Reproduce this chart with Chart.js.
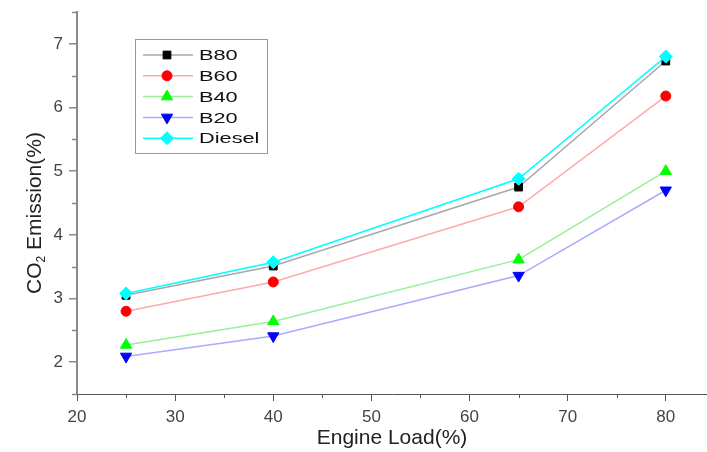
<!DOCTYPE html>
<html>
<head>
<meta charset="utf-8">
<script src="https://cdn.jsdelivr.net/npm/chart.js@4.4.1/dist/chart.umd.min.js"></script>
<style>
  html, body { margin: 0; padding: 0; background: #fff; }
  #wrap { width: 707px; height: 452px; position: relative; }
</style>
</head>
<body>
<div id="wrap"><canvas id="chart"></canvas></div>
<script>
// CO2 emission vs engine load, five fuel blends
const loads = [25, 40, 65, 80];
const seriesNames = ['B80', 'B60', 'B40', 'B20', 'Diesel'];
const b80 = [3.05, 3.51, 4.75, 6.73];
const b60 = [2.80, 3.26, 4.44, 6.18];
const b40 = [2.27, 2.64, 3.61, 5.00];
const b20 = [2.09, 2.41, 3.36, 4.70];
const diesel = [3.08, 3.57, 4.88, 6.80];

const xTicks = [20, 30, 40, 50, 60, 70, 80];
const xMinorTicks = [25, 35, 45, 55, 65, 75];
const yTicks = [2, 3, 4, 5, 6, 7];
const yMinorTicks = [1.5, 2.5, 3.5, 4.5, 5.5, 6.5, 7.5];

const FONT = '"Liberation Sans", Arial, sans-serif';

const styles = [
    { line: '#a8a8a8', point: '#000000', pointStyle: 'rect', rotation: 0, radius: 5.5, order: 1 },
    { line: '#ffaaaa', point: '#ff0000', pointStyle: 'circle', rotation: 0, radius: 5, order: 2 },
    { line: '#99ee99', point: '#00ff00', pointStyle: 'triangle', rotation: 0, radius: 6.5, order: 3 },
    { line: '#aaaaff', point: '#0000ff', pointStyle: 'triangle', rotation: 180, radius: 6.5, order: 4 },
    { line: '#00ffff', point: '#00ffff', pointStyle: 'rectRot', rotation: 0, radius: 6.5, order: 0 },
];

const values = [b80, b60, b40, b20, diesel];

const datasets = seriesNames.map((name, i) => ({
    label: name,
    data: loads.map((x, j) => ({ x, y: values[i][j] })),
    borderColor: styles[i].line,
    borderWidth: 1.5,
    backgroundColor: styles[i].point,
    pointBackgroundColor: styles[i].point,
    pointBorderColor: styles[i].point,
    pointBorderWidth: 1,
    pointStyle: styles[i].pointStyle,
    pointRotation: styles[i].rotation,
    pointRadius: styles[i].radius,
    tension: 0,
    clip: false,
    order: styles[i].order,
}));

// minor ticks, y title with subscript, boxed legend inside the plot
const decor = {
    id: 'decor',
    afterDraw(chart) {
        const { ctx, chartArea } = chart;
        const xs = chart.scales.x;
        const ys = chart.scales.y;
        ctx.save();

        ctx.strokeStyle = '#555';
        ctx.lineWidth = 1;
        xMinorTicks.forEach((v) => {
            const px = Math.round(xs.getPixelForValue(v)) + 0.5;
            ctx.beginPath();
            ctx.moveTo(px, chartArea.bottom);
            ctx.lineTo(px, chartArea.bottom + 4);
            ctx.stroke();
        });
        ctx.strokeStyle = '#888';
        ctx.lineWidth = 1.5;
        yMinorTicks.forEach((v) => {
            const py = Math.round(ys.getPixelForValue(v)) + 0.5;
            ctx.beginPath();
            ctx.moveTo(chartArea.left - 5, py);
            ctx.lineTo(chartArea.left, py);
            ctx.stroke();
        });

        // y axis title: CO₂ Emission(%)
        ctx.save();
        ctx.translate(35, 213);
        ctx.rotate(-Math.PI / 2);
        ctx.fillStyle = '#222';
        ctx.textBaseline = 'middle';
        ctx.font = `21px ${FONT}`;
        const w1 = ctx.measureText('CO').width;
        const w3 = ctx.measureText(' Emission(%)').width;
        ctx.font = `12px ${FONT}`;
        const w2 = ctx.measureText('2').width;
        let tx = -(w1 + w2 + w3) / 2;
        ctx.font = `21px ${FONT}`;
        ctx.textAlign = 'left';
        ctx.fillText('CO', tx, 0);
        tx += w1;
        ctx.font = `12px ${FONT}`;
        ctx.fillText('2', tx, 7);
        tx += w2;
        ctx.font = `21px ${FONT}`;
        ctx.fillText(' Emission(%)', tx, 0);
        ctx.restore();

        // legend box
        ctx.strokeStyle = '#999';
        ctx.lineWidth = 1;
        ctx.strokeRect(135.5, 39.5, 132, 114);
        seriesNames.forEach((name, i) => {
            const y = 55 + i * 20.8;
            const st = styles[i];
            ctx.strokeStyle = st.line;
            ctx.lineWidth = 1.5;
            ctx.beginPath();
            ctx.moveTo(143, y);
            ctx.lineTo(193, y);
            ctx.stroke();
            ctx.fillStyle = st.point;
            ctx.strokeStyle = st.point;
            ctx.lineWidth = 1;
            if (Chart.helpers && Chart.helpers.drawPoint) {
                Chart.helpers.drawPoint(ctx, {
                    pointStyle: st.pointStyle,
                    rotation: st.rotation,
                    radius: st.radius,
                    borderWidth: 1,
                }, 167, y);
            }
            ctx.save();
            ctx.translate(199, y + 1);
            ctx.scale(1.45, 1);
            ctx.fillStyle = '#111';
            ctx.font = `15px ${FONT}`;
            ctx.textBaseline = 'middle';
            ctx.textAlign = 'left';
            ctx.fillText(name, 0, 0);
            ctx.restore();
        });

        ctx.restore();
    },
};

new Chart(document.getElementById('chart').getContext('2d'), {
    type: 'line',
    data: { datasets },
    options: {
        responsive: true,
        maintainAspectRatio: false,
        animation: false,
        layout: { autoPadding: false, padding: { top: 12, right: 0, bottom: 0, left: 0 } },
        plugins: {
            legend: { display: false },
            tooltip: { enabled: false },
        },
        scales: {
            x: {
                type: 'linear',
                min: 20,
                max: 84.2,
                afterBuildTicks: (s) => { s.ticks = xTicks.map((v) => ({ value: v })); },
                afterFit: (s) => { s.height = 58; s.paddingLeft = 0; s.paddingRight = 0; },
                grid: { display: true, drawOnChartArea: false, drawTicks: true, tickLength: 7, color: '#555', tickColor: '#555' },
                border: { display: true, color: '#555', width: 1 },
                ticks: { color: '#444', font: { size: 17, family: FONT }, padding: 6, maxRotation: 0 },
                title: { display: true, text: 'Engine Load(%)', color: '#222', font: { size: 21, family: FONT }, padding: { top: 0, bottom: 1 } },
            },
            y: {
                type: 'linear',
                min: 1.5,
                max: 7.5,
                afterBuildTicks: (s) => { s.ticks = yTicks.map((v) => ({ value: v })); },
                afterFit: (s) => { s.width = 77; s.paddingTop = 0; s.paddingBottom = 0; },
                grid: { display: true, drawOnChartArea: false, drawTicks: true, tickLength: 8, color: '#888', tickColor: '#888', lineWidth: 1.5 },
                border: { display: true, color: '#888', width: 2 },
                ticks: { color: '#444', font: { size: 17, family: FONT }, padding: 6 },
            },
        },
    },
    plugins: [decor],
});
</script>
</body>
</html>
